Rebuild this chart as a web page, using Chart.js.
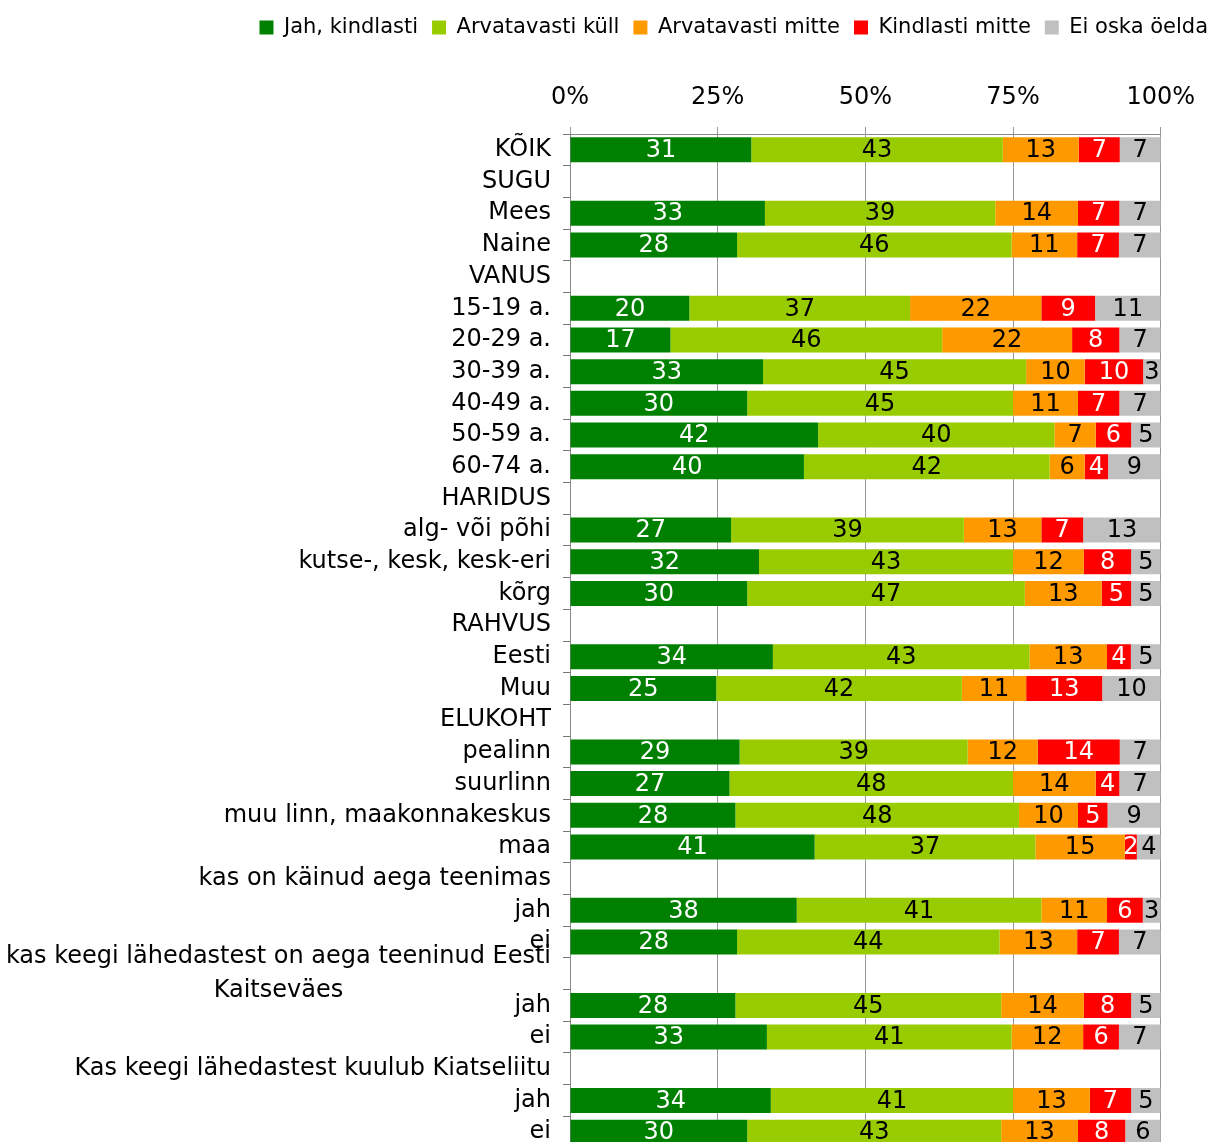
<!DOCTYPE html>
<html>
<head>
<meta charset="utf-8">
<title>Kaitsetahe</title>
<script src="https://cdn.jsdelivr.net/npm/chart.js@4.4.1/dist/chart.umd.min.js"></script>
<style>
    html, body { margin: 0; padding: 0; background: #fff; overflow: hidden; }
    #wrap { position: relative; width: 1210px; height: 1148px; }
</style>
</head>
<body>
<div id="wrap"><canvas id="chart"></canvas></div>
<script>
// Rühmad (tühjad read on vahepealkirjad)
const categories = [
    'KÕIK', 'SUGU', 'Mees', 'Naine', 'VANUS',
    '15-19 a.', '20-29 a.', '30-39 a.', '40-49 a.', '50-59 a.', '60-74 a.',
    'HARIDUS', 'alg- või põhi', 'kutse-, kesk, kesk-eri', 'kõrg',
    'RAHVUS', 'Eesti', 'Muu',
    'ELUKOHT', 'pealinn', 'suurlinn', 'muu linn, maakonnakeskus', 'maa',
    'kas on käinud aega teenimas', 'jah', 'ei',
    ['kas keegi lähedastest on aega teeninud Eesti', 'Kaitseväes'], 'jah', 'ei',
    'Kas keegi lähedastest kuulub Kiatseliitu', 'jah', 'ei'
];

const seriesNames = ['Jah, kindlasti', 'Arvatavasti küll', 'Arvatavasti mitte', 'Kindlasti mitte', 'Ei oska öelda'];

// Vastuste osakaalud (%)
const jahKindlasti     = [31, null, 33, 28, null, 20, 17, 33, 30, 42, 40, null, 27, 32, 30, null, 34, 25, null, 29, 27, 28, 41, null, 38, 28, null, 28, 33, null, 34, 30];
const arvatavastiKull  = [43, null, 39, 46, null, 37, 46, 45, 45, 40, 42, null, 39, 43, 47, null, 43, 42, null, 39, 48, 48, 37, null, 41, 44, null, 45, 41, null, 41, 43];
const arvatavastiMitte = [13, null, 14, 11, null, 22, 22, 10, 11,  7,  6, null, 13, 12, 13, null, 13, 11, null, 12, 14, 10, 15, null, 11, 13, null, 14, 12, null, 13, 13];
const kindlastiMitte   = [ 7, null,  7,  7, null,  9,  8, 10,  7,  6,  4, null,  7,  8,  5, null,  4, 13, null, 14,  4,  5,  2, null,  6,  7, null,  8,  6, null,  7,  8];
const eiOskaOelda      = [ 7, null,  7,  7, null, 11,  7,  3,  7,  5,  9, null, 13,  5,  5, null,  5, 10, null,  7,  7,  9,  4, null,  3,  7, null,  5,  7, null,  5,  6];

const xTicks = [0, 25, 50, 75, 100];

const seriesValues = [jahKindlasti, arvatavastiKull, arvatavastiMitte, kindlastiMitte, eiOskaOelda];
const seriesColors = ['#008000', '#99CC00', '#FF9900', '#FF0000', '#C0C0C0'];
const labelColors = ['#ffffff', '#000000', '#000000', '#ffffff', '#000000'];

const FONT_FAMILY = '"DejaVu Sans", "Liberation Sans", Arial, sans-serif';
const FONT = '24px ' + FONT_FAMILY;

// Ümardatud väärtuste summa pole alati 100, riba skaleeritakse täisribaks
const rowTotals = categories.map((_, i) =>
    seriesValues.reduce((sum, arr) => sum + (arr[i] || 0), 0)
);

const datasets = seriesNames.map((name, k) => ({
    label: name,
    data: seriesValues[k].map((v, i) => v == null ? null : v / rowTotals[i] * 100),
    rawValues: seriesValues[k],
    backgroundColor: seriesColors[k],
    borderWidth: 0,
    categoryPercentage: 1,
    barPercentage: 0.79
}));

// Arvud ribade sees
const valueLabels = {
    id: 'valueLabels',
    afterDatasetsDraw(chart) {
        const ctx = chart.ctx;
        ctx.save();
        ctx.font = FONT;
        ctx.textAlign = 'center';
        ctx.textBaseline = 'middle';
        chart.data.datasets.forEach((ds, i) => {
            chart.getDatasetMeta(i).data.forEach((bar, j) => {
                const v = ds.rawValues[j];
                if (v == null) return;
                ctx.fillStyle = labelColors[i];
                ctx.fillText(String(v), (bar.x + bar.base) / 2, bar.y + 1);
            });
        });
        ctx.restore();
    }
};

// Kaherealine silt: read on omavahel keskel
const wrappedLabels = {
    id: 'wrappedLabels',
    afterDraw(chart) {
        const yScale = chart.scales.y;
        const ctx = chart.ctx;
        ctx.save();
        ctx.font = FONT;
        ctx.fillStyle = '#000';
        ctx.textAlign = 'center';
        ctx.textBaseline = 'middle';
        categories.forEach((lab, i) => {
            if (!Array.isArray(lab)) return;
            const right = yScale.right - 19;
            const cx = right - ctx.measureText(lab[0]).width / 2;
            const cy = yScale.getPixelForValue(i);
            lab.forEach((line, k) => {
                ctx.fillText(line, cx, cy + (k - (lab.length - 1) / 2) * 34);
            });
        });
        ctx.restore();
    }
};

// Legend paremasse serva
const legendPlacement = {
    id: 'legendPlacement',
    afterLayout(chart) {
        if (!chart.legend) return;
        chart.legend.top = 3;
        chart.legend.right = 1222;
    }
};

Chart.defaults.color = '#000';
Chart.defaults.font.family = FONT_FAMILY;
Chart.defaults.font.size = 24;

new Chart(document.getElementById('chart'), {
    type: 'bar',
    data: {
        labels: categories.map((_, i) => i),
        datasets: datasets
    },
    options: {
        indexAxis: 'y',
        responsive: true,
        maintainAspectRatio: false,
        animation: false,
        layout: { padding: 0 },
        plugins: {
            legend: {
                position: 'top',
                align: 'end',
                labels: {
                    boxWidth: 14,
                    boxHeight: 14,
                    padding: 14,
                    font: { size: 21 }
                }
            },
            tooltip: { enabled: false }
        },
        scales: {
            x: {
                position: 'top',
                stacked: true,
                min: 0,
                max: 100,
                afterBuildTicks(scale) {
                    scale.ticks = xTicks.map(v => ({ value: v }));
                },
                afterFit(scale) {
                    const legendH = scale.chart.legend ? scale.chart.legend.height : 0;
                    scale.height = 134 - legendH;
                },
                ticks: {
                    padding: 15,
                    callback: v => v + '%'
                },
                grid: {
                    color: '#999',
                    tickLength: 7
                },
                border: { color: '#888' }
            },
            y: {
                stacked: true,
                afterFit(scale) {
                    scale.width = 570;
                    scale.paddingTop = 0;
                    scale.paddingBottom = 0;
                },
                ticks: {
                    padding: 12,
                    autoSkip: false,
                    callback: (v, i) => Array.isArray(categories[i]) ? '' : categories[i]
                },
                grid: {
                    drawOnChartArea: false,
                    color: '#777',
                    tickLength: 7
                },
                border: { color: '#888' }
            },
            yRight: {
                type: 'category',
                position: 'right',
                grid: { display: false },
                border: { display: false },
                ticks: { display: false },
                afterFit(scale) {
                    scale.width = 49;
                    scale.paddingTop = 0;
                    scale.paddingBottom = 0;
                }
            }
        }
    },
    plugins: [valueLabels, wrappedLabels, legendPlacement]
});
</script>
</body>
</html>
